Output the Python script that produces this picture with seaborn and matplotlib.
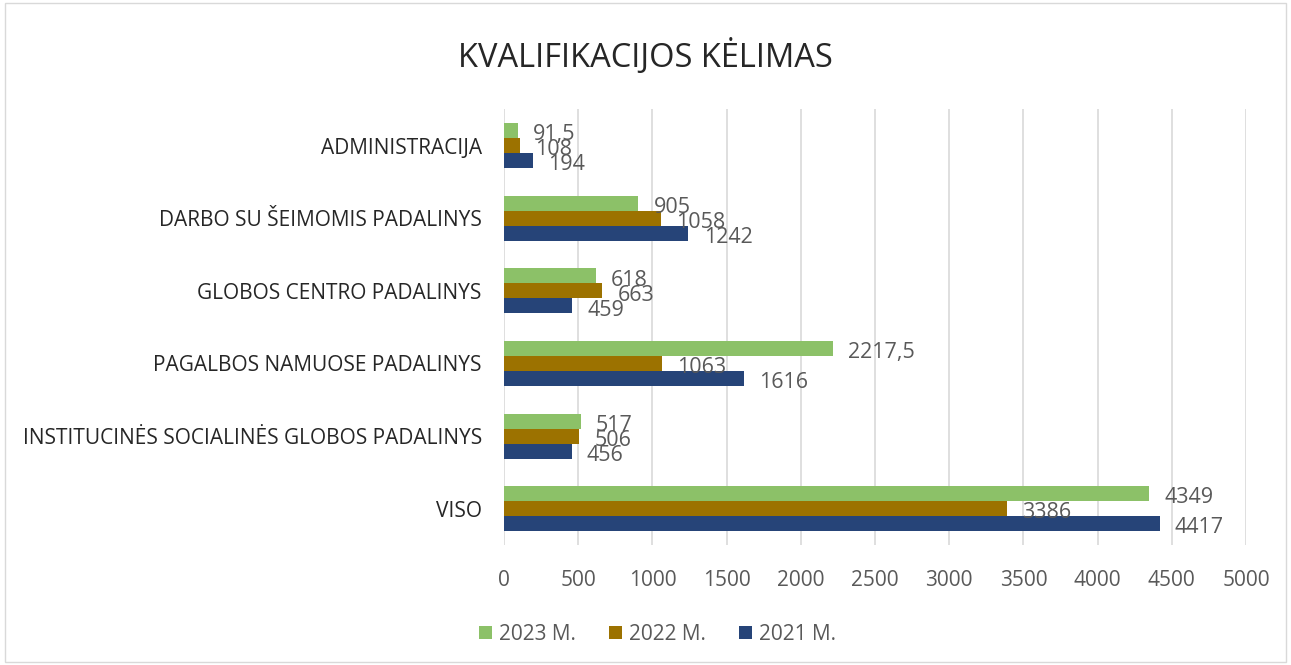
import pandas as pd
import seaborn as sns
import matplotlib.pyplot as plt
from matplotlib.patches import Rectangle

# Data
categories = ['ADMINISTRACIJA', 'DARBO SU ŠEIMOMIS PADALINYS', 'GLOBOS CENTRO PADALINYS',
              'PAGALBOS NAMUOSE PADALINYS', 'INSTITUCINĖS SOCIALINĖS GLOBOS PADALINYS', 'VISO']
years = ['2023 M.', '2022 M.', '2021 M.']
v2023 = [91.5, 905, 618, 2217.5, 517, 4349]
v2022 = [108, 1058, 663, 1063, 506, 3386]
v2021 = [194, 1242, 459, 1616, 456, 4417]
colors = ['#8cc168', '#9c7200', '#264478']

df = pd.DataFrame({
    'category': categories * 3,
    'year': [y for y in years for _ in categories],
    'value': v2023 + v2022 + v2021,
})

sns.set_theme(style='white')
plt.rcParams['font.family'] = ['Open Sans', 'DejaVu Sans']
text_color = '#595959'

fig = plt.figure(figsize=(12.91, 6.65), dpi=100)
ax = fig.add_axes([0.3904, 0.1805, 0.5748, 0.655])

sns.barplot(data=df, y='category', x='value', hue='year', order=categories,
            hue_order=years, palette=colors, width=0.62, orient='h', ax=ax,
            saturation=1, legend=True, linewidth=0)

for cont in ax.containers:
    labels = [f'{v:g}'.replace('.', ',') for v in cont.datavalues]
    texts = ax.bar_label(cont, labels=labels, padding=11, fontsize=15.5, color=text_color)
    for t in texts:
        x, y = t.xyann
        t.xyann = (x, y - 3)

ax.set_xlim(0, 5000)
ax.set_xticks(range(0, 5001, 500))
ax.xaxis.grid(True, color='#d9d9d9', linewidth=1.2)
ax.set_axisbelow(True)
for s in ax.spines.values():
    s.set_visible(False)
ax.set_xlabel('')
ax.set_ylabel('')
ax.tick_params(axis='x', labelsize=15, colors=text_color, pad=18, length=0)
ax.tick_params(axis='y', labelsize=15, colors='#262626', pad=16, length=0)

ax.legend(loc='center', bbox_to_anchor=(0.207, -0.205), ncol=3, frameon=False,
          fontsize=15, labelcolor=text_color, handlelength=0.6, handleheight=0.6,
          columnspacing=1.6, handletextpad=0.35)

fig.text(0.5, 0.915, 'KVALIFIKACIJOS KĖLIMAS', ha='center', va='center',
         fontsize=23.5, color='#262626')

fig.patches.append(Rectangle((0.004, 0.004), 0.992, 0.992, transform=fig.transFigure,
                             fill=False, edgecolor='#d9d9d9', linewidth=1))

fig.savefig('out.png', dpi=100)
